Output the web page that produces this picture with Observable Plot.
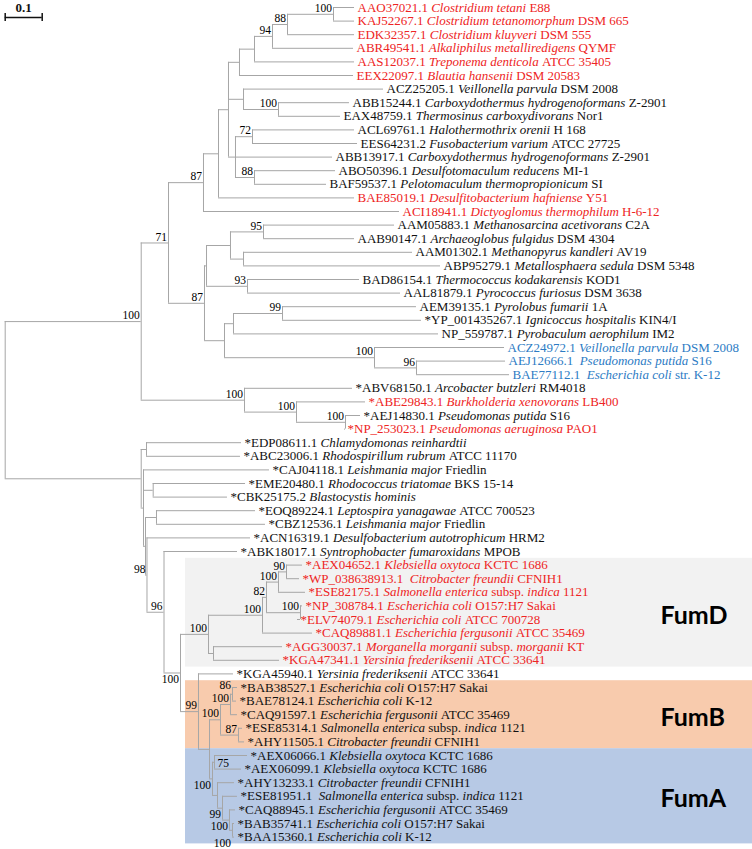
<!DOCTYPE html>
<html><head><meta charset="utf-8">
<script src="https://cdn.jsdelivr.net/npm/d3@7"></script>
<script src="https://cdn.jsdelivr.net/npm/@observablehq/plot@0.6"></script>
<style>
body{margin:0;background:#fff;}
#chart svg{display:block;}
</style></head><body><div id="chart"></div>
<script>
// ---- Internal nodes of the tree: id, parent, depth (substitutions/site), bootstrap support
const nodeIds = ["root","U","N71","N87a","N218","N228","N239","N254","N94","N88a","N100a","N243","N100b","N235","N72","N88b",
  "N87b","N206","N230","N95","N243b","N93","N224","N233","N99a","N100c","N96a","N244","N296","N345",
  "L","N_EDP","M","N_EME","K","N_EOQ","N98","N96","N100d","N100e","N100h","N82","N100f","N90","N100g","N_AGG",
  "N99","N_BA","N100j","N100i","N86","N87c","N_FumA","N75","N_q","N99b","N100l","N100k"];
const nodeParents = [null,"root","U","N71","N87a","N218","N228","N239","N254","N94","N88a","N228","N243","N228","N235","N235",
  "N71","N87b","N206","N230","N230","N206","N87b","N224","N233","N224","N100c","U","N244","N296",
  "root","L","L","M","M","K","K","N98","N96","N100d","N100e","N100h","N82","N100f","N82","N100e",
  "N100d","N99","N_BA","N100j","N100i","N100j","N_BA","N_FumA","N_FumA","N_q","N99b","N100l"];
const nodeDepths = [0,0.3676,0.4414,0.5359,0.5765,0.6035,0.6332,0.6738,0.7224,0.7630,0.8873,0.6441,0.7386,0.6224,0.6684,0.6738,
  0.5386,0.5441,0.6089,0.6981,0.6441,0.6549,0.5927,0.6170,0.7495,0.9981,1.1116,0.6468,0.7873,0.9197,
  0.3676,0.3819,0.3738,0.4000,0.3792,0.4089,0.3832,0.4292,0.4738,0.5495,0.6954,0.7062,0.7386,0.7603,0.7981,0.5630,
  0.5224,0.5522,0.5819,0.6089,0.6143,0.6305,0.5603,0.5657,0.5738,0.5873,0.6062,0.6143];
const nodeSupport = ["","100","71","87","","","","","94","88","100","","100","","72","88",
  "87","","","95","","93","","","99","100","96","100","100","100",
  "","","","","","","98","96","100","100","100","82","100","90","100","",
  "99","","100","100","86","87","100","75","","99","100","100"];
const supportBelow = ["N100d","N_FumA","N99b","N100l"];
const supportFarBelow = ["N100k"];
const supportRight = ["N75"];
const supportHigh = ["N86"];

// ---- Leaves (top to bottom)
const leafAcc = ["AAO37021.1","KAJ52267.1","EDK32357.1","ABR49541.1","AAS12037.1","EEX22097.1","ACZ25205.1","ABB15244.1","EAX48759.1","ACL69761.1",
  "EES64231.2","ABB13917.1","ABO50396.1","BAF59537.1","BAE85019.1","ACI18941.1","AAM05883.1","AAB90147.1","AAM01302.1","ABP95279.1",
  "BAD86154.1","AAL81879.1","AEM39135.1","*YP_001435267.1","NP_559787.1","ACZ24972.1","AEJ12666.1","BAE77112.1","*ABV68150.1","*ABE29843.1",
  "*AEJ14830.1","*NP_253023.1","*EDP08611.1","*ABC23006.1","*CAJ04118.1","*EME20480.1","*CBK25175.2","*EOQ89224.1","*CBZ12536.1","*ACN16319.1",
  "*ABK18017.1","*AEX04652.1","*WP_038638913.1","*ESE82175.1","*NP_308784.1","*ELV74079.1","*CAQ89881.1","*AGG30037.1","*KGA47341.1","*KGA45940.1",
  "*BAB38527.1","*BAE78124.1","*CAQ91597.1","*ESE85314.1","*AHY11505.1","*AEX06066.1","*AEX06099.1","*AHY13233.1","*ESE81951.1","*CAQ88945.1",
  "*BAB35741.1","*BAA15360.1"];
const leafSpecies = ["Clostridium tetani","Clostridium tetanomorphum","Clostridium kluyveri","Alkaliphilus metalliredigens","Treponema denticola","Blautia hansenii","Veillonella parvula","Carboxydothermus hydrogenoformans","Thermosinus carboxydivorans","Halothermothrix orenii",
  "Fusobacterium varium","Carboxydothermus hydrogenoformans","Desulfotomaculum reducens","Pelotomaculum thermopropionicum","Desulfitobacterium hafniense","Dictyoglomus thermophilum","Methanosarcina acetivorans","Archaeoglobus fulgidus","Methanopyrus kandleri","Metallosphaera sedula",
  "Thermococcus kodakarensis","Pyrococcus furiosus","Pyrolobus fumarii","Ignicoccus hospitalis","Pyrobaculum aerophilum","Veillonella parvula","Pseudomonas putida","Escherichia coli","Arcobacter butzleri","Burkholderia xenovorans",
  "Pseudomonas putida","Pseudomonas aeruginosa","Chlamydomonas reinhardtii","Rhodospirillum rubrum","Leishmania major","Rhodococcus triatomae","Blastocystis hominis","Leptospira yanagawae","Leishmania major","Desulfobacterium autotrophicum",
  "Syntrophobacter fumaroxidans","Klebsiella oxytoca","Citrobacter freundii","Salmonella enterica subsp. indica","Escherichia coli","Escherichia coli","Escherichia fergusonii","Morganella morganii subsp. morganii","Yersinia frederiksenii","Yersinia frederiksenii",
  "Escherichia coli","Escherichia coli","Escherichia fergusonii","Salmonella enterica subsp. indica","Citrobacter freundii","Klebsiella oxytoca","Klebsiella oxytoca","Citrobacter freundii","Salmonella enterica subsp. indica","Escherichia fergusonii",
  "Escherichia coli","Escherichia coli"];
const leafStrain = ["E88","DSM 665","DSM 555","QYMF","ATCC 35405","DSM 20583","DSM 2008","Z-2901","Nor1","H 168",
  "ATCC 27725","Z-2901","MI-1","SI","Y51","H-6-12","C2A","DSM 4304","AV19","DSM 5348",
  "KOD1","DSM 3638","1A","KIN4/I","IM2","DSM 2008","S16","str. K-12","RM4018","LB400",
  "S16","PAO1","","ATCC 11170","Friedlin","BKS 15-14","","ATCC 700523","Friedlin","HRM2",
  "MPOB","KCTC 1686","CFNIH1","1121","O157:H7 Sakai","ATCC 700728","ATCC 35469","KT","ATCC 33641","ATCC 33641",
  "O157:H7 Sakai","K-12","ATCC 35469","1121","CFNIH1","KCTC 1686","KCTC 1686","CFNIH1","1121","ATCC 35469",
  "O157:H7 Sakai","K-12"];
const leafGroup = ["red","red","red","red","red","red","black","black","black","black",
  "black","black","black","black","red","red","black","black","black","black",
  "black","black","black","black","black","blue","blue","blue","black","red",
  "black","red","black","black","black","black","black","black","black","black",
  "black","red","red","red","red","red","red","red","red","black",
  "black","black","black","black","black","black","black","black","black","black",
  "black","black"];
const leafParents = ["N100a","N100a","N88a","N94","N254","N239","N243","N100b","N100b","N72",
  "N72","N235","N88b","N88b","N218","N87a","N95","N95","N243b","N243b",
  "N93","N93","N99a","N99a","N233","N100c","N96a","N96a","N244","N296",
  "N345","N345","N_EDP","N_EDP","M","N_EME","N_EME","N_EOQ","N_EOQ","N98",
  "N96","N90","N90","N100f","N100g","N100g","N100h","N_AGG","N_AGG","N99",
  "N86","N86","N100i","N87c","N87c","N75","N75","N_q","N99b","N100l",
  "N100k","N100k"];
const leafDepths = [0.9441,0.9441,0.9441,0.9414,0.9441,0.9414,1.0224,0.9305,0.9062,0.9441,
  0.9522,0.8846,0.8927,0.8684,0.9441,1.0657,1.0522,0.9441,1.1008,1.1765,
  0.9576,1.0684,1.1116,1.1251,1.1711,1.3495,1.3522,1.3630,0.9386,0.9738,
  0.9603,0.9170,0.6386,0.6359,0.7143,0.6495,0.6008,0.6765,0.7035,0.6630,
  0.6278,0.8035,0.7954,0.8116,0.8035,0.7900,0.8305,0.7495,0.7414,0.6170,
  0.6278,0.6251,0.6278,0.6414,0.6468,0.6549,0.6386,0.6197,0.6278,0.6224,
  0.6197,0.6197];
const wideGapAcc = ["AEJ12666.1","BAE77112.1","*WP_038638913.1","*ESE81951.1"];

// ---- Highlighted clades
const cladeNames = ["FumD","FumB","FumA"];
const cladeFirst = [41,50,55];
const cladeLast = [48,54,61];

// ---- Scale bar
const scaleBarLength = 0.1;
const scaleBarLabel = "0.1";

// ---------- build tree ----------
const groupColors = {red:"#ee2424", black:"#111111", blue:"#2c7bc4"};
const cladeFills = {FumD:"#f2f2f2", FumB:"#f8cbad", FumA:"#b7c9e5"};
const nodes = new Map();
nodeIds.forEach((id,i)=>nodes.set(id,{id,parent:nodeParents[i],x:nodeDepths[i],support:nodeSupport[i],children:[]}));
const leaves = leafAcc.map((acc,i)=>({id:"leaf"+i,acc,species:leafSpecies[i],strain:leafStrain[i],group:leafGroup[i],parent:leafParents[i],x:leafDepths[i],y:i,leaf:true}));
nodes.forEach(n=>{ if(n.parent) nodes.get(n.parent).children.push(n); });
leaves.forEach(l=>nodes.get(l.parent).children.push(l));
function layout(n){ if(n.leaf) return n.y; const ys=n.children.map(layout); n.ymin=Math.min(...ys); n.ymax=Math.max(...ys); n.y=(n.ymin+n.ymax)/2; return n.y; }
layout(nodes.get("root"));
const hSegs = [], vSegs = [];
for (const n of [...nodes.values(), ...leaves]) {
  if (n.parent) hSegs.push({x1:nodes.get(n.parent).x, x2:n.x, y:n.y});
  if (!n.leaf) vSegs.push({x:n.x, y1:n.ymin, y2:n.ymax});
}
const special = [...supportBelow, ...supportFarBelow, ...supportRight, ...supportHigh];
const allSup = [...nodes.values()].filter(n=>n.support);
const supAbove = allSup.filter(n=>!special.includes(n.id));
const supBelow = allSup.filter(n=>supportBelow.includes(n.id));
const supFar = allSup.filter(n=>supportFarBelow.includes(n.id));
const supRight = allSup.filter(n=>supportRight.includes(n.id));
const supHigh = allSup.filter(n=>supportHigh.includes(n.id));
const clades = cladeNames.map((name,i)=>({name, first:cladeFirst[i], last:cladeLast[i]}));
const leafByAcc = new Map(leaves.map(l=>[l.acc,l]));

const treeStroke = "#a6a6a6";
const supStyle = {x:"x", y:"y", text:"support", fontSize:11.5, fill:"#000"};
const chart = Plot.plot({
  width:752, height:849, margin:0,
  x:{domain:[0,2.0197], range:[4.7,752], axis:null},
  y:{domain:[0,61], range:[7,836.6], axis:null},
  color:{type:"identity"},
  style:{fontFamily:"'Liberation Serif','Times New Roman',serif", background:"#fff", color:"#111"},
  marks:[
    Plot.rect(clades,{x1:()=>0.4873, x2:()=>2.0197, y1:d=>d.first-0.5, y2:d=>d.last+0.5, fill:d=>cladeFills[d.name]}),
    Plot.ruleY(hSegs,{y:"y", x1:"x1", x2:"x2", stroke:treeStroke, strokeWidth:1}),
    Plot.ruleX(vSegs,{x:"x", y1:"y1", y2:"y2", stroke:treeStroke, strokeWidth:1}),
    Plot.text(leaves,{x:"x", y:"y", text:"acc", dx:3, textAnchor:"start", fontSize:13, fill:d=>groupColors[d.group]}),
    Plot.text(supAbove,{...supStyle, dx:-1.5, dy:-6, textAnchor:"end"}),
    Plot.text(supHigh,{...supStyle, dx:-1.5, dy:-8.5, textAnchor:"end"}),
    Plot.text(supBelow,{...supStyle, dx:-1.5, dy:6, textAnchor:"end"}),
    Plot.text(supFar,{...supStyle, dx:-1.5, dy:13, textAnchor:"end"}),
    Plot.text(supRight,{...supStyle, dx:3, dy:1, textAnchor:"start"}),
    Plot.text(clades,{x:()=>1.771, y:d=>(d.first+d.last)/2, text:"name", dy:3, textAnchor:"start", fontSize:25, fontWeight:"bold", fontFamily:"Lato,'Open Sans',sans-serif", fill:"#000"}),
    Plot.ruleY([{y:0.735, x1:0, x2:scaleBarLength}],{y:"y", x1:"x1", x2:"x2", stroke:"#111", strokeWidth:1.5}),
    Plot.ruleX([0, scaleBarLength],{x:d=>d, y1:()=>0.44, y2:()=>1.03, stroke:"#111", strokeWidth:1.5}),
    Plot.text([scaleBarLabel],{x:()=>scaleBarLength/2, y:()=>0.06, text:d=>d, fontSize:13, fontWeight:"bold", fill:"#111"})
  ]
});
// Rich labels: accession plain, species italic (except "subsp."), strain plain
const NS = "http://www.w3.org/2000/svg";
chart.querySelectorAll("text").forEach(el=>{
  const leaf = leafByAcc.get(el.textContent);
  if (!leaf) return;
  el.textContent = "";
  const add=(t,italic)=>{const s=document.createElementNS(NS,"tspan"); s.textContent=t; if(italic) s.setAttribute("font-style","italic"); el.appendChild(s);};
  add(leaf.acc+(wideGapAcc.includes(leaf.acc)?"\u00a0\u00a0":"\u00a0"), false);
  const words = leaf.species.split(" ");
  words.forEach((w,i)=>add(w+(i<words.length-1?"\u00a0":""), !/^(subsp\.|str\.)$/.test(w)));
  if (leaf.strain) add("\u00a0"+leaf.strain, false);
});
document.getElementById("chart").appendChild(chart);
</script></body></html>
